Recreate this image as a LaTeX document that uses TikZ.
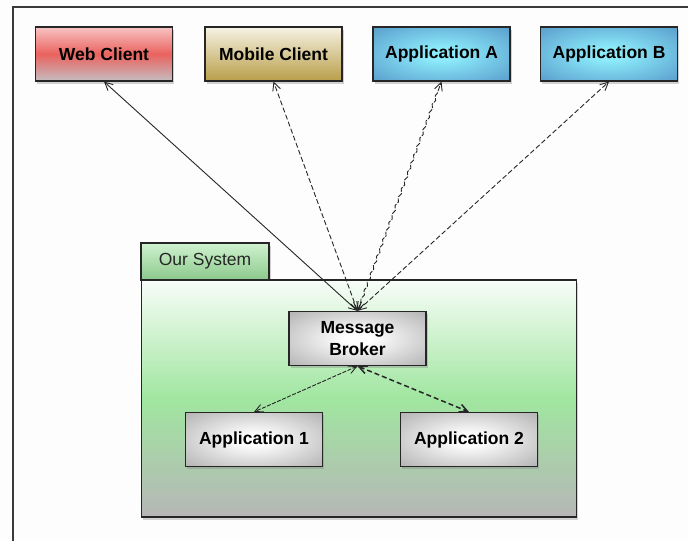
\documentclass[tikz,border=0pt]{standalone}
\usepackage{fontspec}
\setmainfont{Liberation Sans}
\usetikzlibrary{shadows,arrows.meta,decorations.pathmorphing}
\definecolor{bg}{HTML}{FDFDFD}
\definecolor{frame}{HTML}{3A3A3A}
\definecolor{wctop}{HTML}{F7C4C4}
\definecolor{wcmid}{HTML}{EA625E}
\definecolor{wcbot}{HTML}{C4BEC2}
\definecolor{mctop}{HTML}{F6F2E4}
\definecolor{mcbot}{HTML}{B89E48}
\definecolor{cyanin}{HTML}{8CEAFA}
\definecolor{cyanout}{HTML}{5292C6}
\definecolor{grayin}{HTML}{FFFFFF}
\definecolor{grayout}{HTML}{A8A8A8}
\definecolor{gtop}{HTML}{F8FDF8}
\definecolor{gmid}{HTML}{A0E6A0}
\definecolor{gbot}{HTML}{B6B6B6}
\definecolor{tabtop}{HTML}{CFF2CF}
\definecolor{tabbot}{HTML}{8CC88C}
\pgfdeclareradialshading{cyanrad}{\pgfpoint{0bp}{0bp}}{color(0bp)=(cyanin); color(6bp)=(cyanin); color(40bp)=(cyanout); color(72bp)=(cyanout)}
\pgfdeclareradialshading{grayrad}{\pgfpoint{0bp}{0bp}}{color(0bp)=(grayin); color(5bp)=(grayin); color(40bp)=(grayout); color(72bp)=(grayout)}
\tikzset{
  box/.style={draw=black!85, line width=1.2pt, minimum width=137pt, minimum height=54pt,
    inner sep=0pt, align=center, font=\fontsize{17.5}{22}\selectfont\bfseries,
    drop shadow={shadow xshift=1.5pt, shadow yshift=-2.5pt, opacity=0.35}},
  cyanbox/.style={box, shading=cyanrad},
  graybox/.style={box, shading=grayrad},
  conn/.style={line width=0.9pt, black!85, {Straight Barb[length=8pt,width=8pt]}-{Straight Barb[length=8pt,width=8pt]}},
  dashconn/.style={conn, dash pattern=on 5pt off 2.5pt},
}
\begin{document}
\begin{tikzpicture}[x=1pt,y=-1pt]
\useasboundingbox (0,0) rectangle (688,541);
\fill[bg] (0,0) rectangle (688,541);
\draw[frame, line width=1.3pt] (13,541) -- (13,7) -- (688,7);

% package
\node[draw=black!85, line width=1.2pt, minimum width=128pt, minimum height=37pt, inner sep=0pt,
  top color=tabtop, bottom color=tabbot, font=\fontsize{17.5}{22}\selectfont, text=black!85,
  drop shadow={shadow xshift=1.5pt, shadow yshift=-2.5pt, opacity=0.35}] (tab) at (205,261.5) {Our System};
\node[draw=black!85, line width=1.2pt, minimum width=435pt, minimum height=237pt, inner sep=0pt,
  top color=gtop, bottom color=gbot, middle color=gmid,
  drop shadow={shadow xshift=1.5pt, shadow yshift=-2.5pt, opacity=0.35}] (body) at (359,398.5) {};

% top boxes
\node[box, top color=wctop, bottom color=wcbot, middle color=wcmid] (wc) at (104,54) {Web Client};
\node[box, top color=mctop, bottom color=mcbot] (mc) at (273.5,54) {Mobile Client};
\node[cyanbox] (aa) at (441.5,54) {Application A};
\node[cyanbox] (ab) at (609,54) {Application B};

% inner boxes
\node[graybox] (mb) at (357.5,338.5) {Message\\Broker};
\node[graybox] (a1) at (254,439.5) {Application 1};
\node[graybox] (a2) at (469,439.5) {Application 2};

% connectors
\draw[conn] (mb.north) -- (wc.south);
\draw[dashconn] (mb.north) -- (mc.south);
\draw[conn, dash pattern=on 5pt off 1.5pt, decorate,
  decoration={snake, amplitude=1pt, segment length=9pt, pre length=10pt, post length=10pt}]
  (mb.north) -- (aa.south);
\draw[dashconn] (mb.north) -- (ab.south);
\draw[conn, dash pattern=on 4pt off 1.5pt] (mb.south) -- (a1.north);
\draw[conn, line width=1.5pt, dash pattern=on 5pt off 3pt] (mb.south) -- (a2.north);
\end{tikzpicture}
\end{document}
